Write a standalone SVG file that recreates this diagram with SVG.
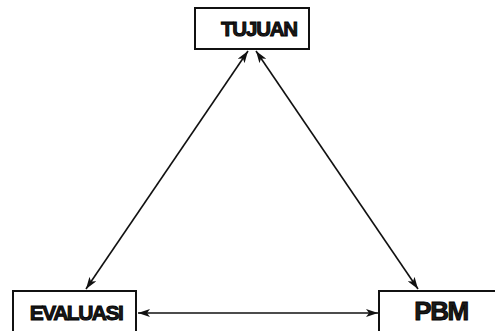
<svg xmlns="http://www.w3.org/2000/svg" width="495" height="331" viewBox="0 0 495 331">
<style>
.box{fill:#fff;stroke:#111;stroke-width:2}
.lbl{font-family:"Liberation Sans",Arial,sans-serif;font-weight:bold;fill:#1a1a1a;stroke:#000;stroke-width:0.9;text-anchor:middle}
.conn{stroke:#111;stroke-width:1.6;fill:none;marker-start:url(#ah);marker-end:url(#ah)}
</style>
<defs>
<marker id="ah" viewBox="0 0 12 8" refX="12" refY="4" markerWidth="12" markerHeight="8" markerUnits="userSpaceOnUse" orient="auto-start-reverse">
<path d="M0,0 L12,4 L0,8 L3,4 Z" fill="#111"/>
</marker>
</defs>
<rect width="495" height="331" fill="#fff"/>
<g id="connectors">
<line class="conn" x1="86" y1="289" x2="248" y2="51"/>
<line class="conn" x1="256" y1="51" x2="418" y2="289"/>
<line class="conn" x1="138" y1="313" x2="378" y2="313"/>
</g>
<g id="tujuan">
<rect class="box" x="195" y="8" width="114" height="41"/>
<text class="lbl" x="259" y="36" font-size="20.5" letter-spacing="-1.2">TUJUAN</text>
</g>
<g id="evaluasi">
<rect class="box" x="13" y="291" width="123" height="50"/>
<text class="lbl" x="76" y="320" font-size="21" letter-spacing="-1.5">EVALUASI</text>
</g>
<g id="pbm">
<rect class="box" x="379" y="291" width="130" height="50"/>
<text class="lbl" x="441" y="320" font-size="26" letter-spacing="-1.5" fill="#333">PBM</text>
</g>
</svg>
